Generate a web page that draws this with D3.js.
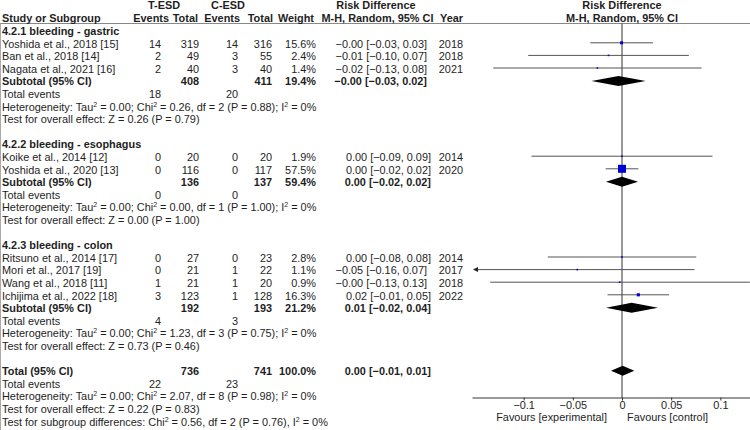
<!DOCTYPE html>
<html><head><meta charset="utf-8">
<script src="https://cdn.jsdelivr.net/npm/d3@7"></script>
<style>
body{margin:0;background:#fff}
svg{display:block}
text{font-family:'Liberation Sans',Arial,sans-serif;font-size:10.9px;fill:#1e1e1e}
.b{font-weight:bold}
</style>
</head><body>
<svg id="c" width="750" height="430"></svg>
<script>
// ---------- data ----------
const groups = ["4.2.1 bleeding - gastric", "4.2.2 bleeding - esophagus", "4.2.3 bleeding - colon"];
const studies = ["Yoshida et al., 2018 [15]", "Ban et al., 2018 [14]", "Nagata et al., 2021 [16]",
  "Koike et al., 2014 [12]", "Yoshida et al., 2020 [13]",
  "Ritsuno et al., 2014 [17]", "Mori et al., 2017 [19]", "Wang et al., 2018 [11]", "Ichijima et al., 2022 [18]"];
const studyGroup = [0, 0, 0, 1, 1, 2, 2, 2, 2];
const tEvents = [14, 2, 2, 0, 0, 0, 0, 1, 3];
const tTotal = [319, 49, 40, 20, 116, 27, 21, 21, 123];
const cEvents = [14, 3, 3, 0, 0, 0, 1, 1, 1];
const cTotal = [316, 55, 40, 20, 117, 23, 22, 20, 128];
const weights = [15.6, 2.4, 1.4, 1.9, 57.5, 2.8, 1.1, 0.9, 16.3];
const rd = [-0.0004, -0.0137, -0.025, 0, 0, 0, -0.0455, -0.0024, 0.0166];
const rdLow = [-0.0323, -0.0954, -0.1309, -0.092, -0.0166, -0.0755, -0.164, -0.134, -0.0147];
const rdHigh = [0.0315, 0.068, 0.0809, 0.092, 0.0166, 0.0755, 0.0736, 0.130, 0.0478];
const rdLabels = ["\u22120.00 [\u22120.03, 0.03]", "\u22120.01 [\u22120.10, 0.07]", "\u22120.02 [\u22120.13, 0.08]",
  "0.00 [\u22120.09, 0.09]", "0.00 [\u22120.02, 0.02]",
  "0.00 [\u22120.08, 0.08]", "\u22120.05 [\u22120.16, 0.07]", "\u22120.00 [\u22120.13, 0.13]", "0.02 [\u22120.01, 0.05]"];
const years = [2018, 2018, 2021, 2014, 2020, 2014, 2017, 2018, 2022];

const subTTotal = [408, 136, 192];
const subCTotal = [411, 137, 193];
const subWeight = ["19.4%", "59.4%", "21.2%"];
const subRd = [-0.0035, 0, 0.0098];
const subLow = [-0.031, -0.0163, -0.0163];
const subHigh = [0.024, 0.0163, 0.0366];
const subLabels = ["\u22120.00 [\u22120.03, 0.02]", "0.00 [\u22120.02, 0.02]", "0.01 [\u22120.02, 0.04]"];
const subTEvents = [18, 0, 4];
const subCEvents = [20, 0, 3];
const subTau2 = ["0.00", "0.00", "0.00"];
const subChi2 = ["0.26", "0.00", "1.23"];
const subDf = [2, 1, 3];
const subP = ["0.88", "1.00", "0.75"];
const subI2 = ["0%", "0%", "0%"];
const subZ = ["0.26", "0.00", "0.73"];
const subPz = ["0.79", "1.00", "0.46"];

const totTTotal = 736, totCTotal = 741, totWeight = "100.0%";
const totRd = 0.0007, totLow = -0.0112, totHigh = 0.0125;
const totLabel = "0.00 [\u22120.01, 0.01]";
const totTEvents = 22, totCEvents = 23;
const totTau2 = "0.00", totChi2 = "2.07", totDf = 8, totP = "0.98", totI2 = "0%";
const totZ = "0.22", totPz = "0.83";
const sgChi2 = "0.56", sgDf = 2, sgP = "0.76", sgI2 = "0%";

const xTicks = [-0.1, -0.05, 0, 0.05, 0.1];
const xTickLabels = ["\u22120.1", "\u22120.05", "0", "0.05", "0.1"];

// ---------- layout ----------
const svg = d3.select("#c");
const W = 750;
const col = {name: 2, tEv: 161, tTot: 199, cEv: 238, cTot: 272, wt: 316, rdNeg: 427, rdPos: 431, yr: 463};
const x = d3.scaleLinear().domain([-0.1525, 0.1525]).range([472, 772]);
const yRow = d3.scaleLinear().domain([0, 31]).range([31, 31 + 12.6 * 31]);
const sq = d3.scalePow().exponent(0.75).domain([0, 57.5]).range([0, 8]);
const axisY = 397.5, topY = 23.5;

function txt(xp, yp, s, anchor, bold) {
  return svg.append("text").attr("x", xp).attr("y", yp).attr("dy", "0.36em")
    .attr("text-anchor", anchor || "start").attr("class", bold ? "b" : null).text(s);
}
function rich(xp, yp, parts) {
  const t = svg.append("text").attr("x", xp).attr("y", yp).attr("dy", "0.36em");
  let up = false;
  parts.forEach(p => {
    const sup = p.startsWith("^");
    const s = sup ? p.slice(1) : p;
    const ts = t.append("tspan").text(s);
    if (sup && !up) { ts.attr("dy", -4).style("font-size", "7px"); up = true; }
    else if (sup) { ts.style("font-size", "7px"); }
    else if (up) { ts.attr("dy", 4); up = false; }
  });
  return t;
}
function hetParts(tau, chi, df, p, i2, sep) {
  return ["Heterogeneity: Tau", "^2", " = " + tau + "; Chi", "^2", " = " + chi + ", df = " + df + " (P = " + p + ")" + sep + " I", "^2", " = " + i2];
}
function rdText(yp, s, bold) {
  const neg = s.startsWith("\u2212");
  txt(neg ? col.rdNeg : col.rdPos, yp, s, "end", bold);
}
function diamond(yc, c, lo, hi) {
  const h = 5;
  svg.append("path").attr("fill", "#000")
    .attr("d", `M${x(lo)},${yc}L${x(c)},${yc - h}L${x(hi)},${yc}L${x(c)},${yc + h}Z`);
}

// frame lines
svg.append("line").attr("x1", 0).attr("x2", W).attr("y1", topY).attr("y2", topY).attr("stroke", "#888");
svg.append("line").attr("x1", 0.5).attr("x2", 0.5).attr("y1", topY).attr("y2", 430).attr("stroke", "#aaa");

// headers
const h1 = 4.8, h2 = 17.6;
txt(164, h1, "T-ESD", "middle", true);
txt(228, h1, "C-ESD", "middle", true);
txt(376, h1, "Risk Difference", "middle", true);
txt(622, h1, "Risk Difference", "middle", true);
txt(col.name, h2, "Study or Subgroup", "start", true);
txt(169, h2, "Events", "end", true);
txt(198, h2, "Total", "end", true);
txt(240, h2, "Events", "end", true);
txt(273, h2, "Total", "end", true);
txt(314, h2, "Weight", "end", true);
txt(377.5, h2, "M-H, Random, 95% CI", "middle", true);
txt(463, h2, "Year", "end", true);
txt(622, h2, "M-H, Random, 95% CI", "middle", true);

// zero line
svg.append("line").attr("x1", x(0)).attr("x2", x(0)).attr("y1", topY).attr("y2", axisY).attr("stroke", "#333");

// rows
let r = 0;
groups.forEach((g, gi) => {
  txt(col.name, yRow(r), g, "start", true); r++;
  studies.forEach((s, i) => {
    if (studyGroup[i] !== gi) return;
    const yp = yRow(r);
    txt(col.name, yp, s);
    txt(col.tEv, yp, tEvents[i], "end");
    txt(col.tTot, yp, tTotal[i], "end");
    txt(col.cEv, yp, cEvents[i], "end");
    txt(col.cTot, yp, cTotal[i], "end");
    txt(col.wt, yp, weights[i].toFixed(1) + "%", "end");
    rdText(yp, rdLabels[i], false);
    txt(col.yr, yp, years[i], "end");
    const ym = yp - 0.8;
    const d0 = x.domain()[0], d1 = x.domain()[1];
    const lo = Math.max(rdLow[i], d0), hi = Math.min(rdHigh[i], d1);
    svg.append("line").attr("x1", x(lo) + (rdLow[i] < d0 ? 3 : 0)).attr("x2", x(hi))
      .attr("y1", ym).attr("y2", ym).attr("stroke", "#555");
    if (rdLow[i] < d0) {
      const ax = x(d0) + 1;
      svg.append("path").attr("fill", "#222")
        .attr("d", `M${ax},${ym}L${ax + 5},${ym - 2.5}L${ax + 5},${ym + 2.5}Z`);
    }
    const s2 = Math.max(sq(weights[i]), 1.6);
    svg.append("rect").attr("x", x(rd[i]) - s2 / 2).attr("y", ym - s2 / 2)
      .attr("width", s2).attr("height", s2).attr("fill", "#0000d0");
    r++;
  });
  let yp = yRow(r);
  txt(col.name, yp, "Subtotal (95% CI)", "start", true);
  txt(col.tTot, yp, subTTotal[gi], "end", true);
  txt(col.cTot, yp, subCTotal[gi], "end", true);
  txt(col.wt, yp, subWeight[gi], "end", true);
  rdText(yp, subLabels[gi], true);
  diamond(yp - 0.5, subRd[gi], subLow[gi], subHigh[gi]);
  r++;
  yp = yRow(r);
  txt(col.name, yp, "Total events");
  txt(col.tEv, yp, subTEvents[gi], "end");
  txt(col.cEv, yp, subCEvents[gi], "end");
  r++;
  rich(col.name, yRow(r), hetParts(subTau2[gi], subChi2[gi], subDf[gi], subP[gi], subI2[gi], ";")); r++;
  txt(col.name, yRow(r), "Test for overall effect: Z = " + subZ[gi] + " (P = " + subPz[gi] + ")"); r++;
  r++; // blank
});
let yp = yRow(r);
txt(col.name, yp, "Total (95% CI)", "start", true);
txt(col.tTot, yp, totTTotal, "end", true);
txt(col.cTot, yp, totCTotal, "end", true);
txt(col.wt, yp, totWeight, "end", true);
rdText(yp, totLabel, true);
diamond(yp - 0.5, totRd, totLow, totHigh);
r++;
yp = yRow(r);
txt(col.name, yp, "Total events");
txt(col.tEv, yp, totTEvents, "end");
txt(col.cEv, yp, totCEvents, "end");
r++;
rich(col.name, yRow(r), hetParts(totTau2, totChi2, totDf, totP, totI2, ";")); r++;
txt(col.name, yRow(r), "Test for overall effect: Z = " + totZ + " (P = " + totPz + ")"); r++;
rich(col.name, yRow(r), ["Test for subgroup differences: Chi", "^2", " = " + sgChi2 + ", df = " + sgDf + " (P = " + sgP + "), I", "^2", " = " + sgI2]);

// axis
const axis = d3.axisBottom(x).tickValues(xTicks).tickFormat((d, i) => xTickLabels[i]).tickSize(3).tickSizeOuter(0);
const ag = svg.append("g").attr("transform", `translate(0,${axisY})`).call(axis);
ag.select(".domain").attr("stroke", "#333");
ag.selectAll(".tick line").attr("stroke", "#333");
ag.selectAll(".tick text").attr("font-family", null).attr("font-size", null).attr("fill", null).attr("dy", "0.5em").attr("y", 6);
txt(607, 417.5, "Favours [experimental]", "end");
txt(627, 417.5, "Favours [control]", "start");
</script>
</body></html>
